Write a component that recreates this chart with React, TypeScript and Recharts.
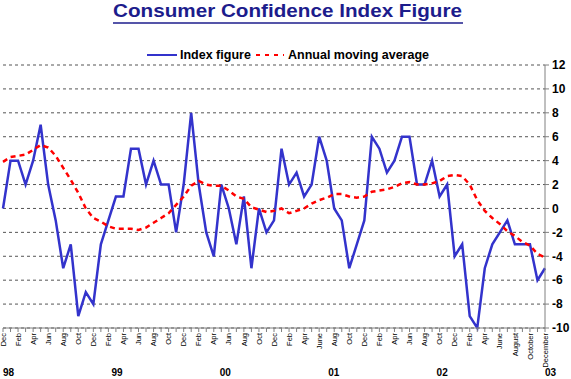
import React from 'react';
import { LineChart, Line, XAxis, YAxis, CartesianGrid, Legend } from 'recharts';

const FONT = "'Liberation Sans', Arial, sans-serif";

// one label per month, Dec 97 .. Dec 03
const monthLabels = [
  "Dec",
  "Jan", "Feb", "Mar", "Apr", "May", "Jun", "Jul", "Aug", "Sep", "Oct", "Nov", "Dec",
  "Jan", "Feb", "Mar", "Apr", "May", "Jun", "Jul", "Aug", "Sep", "Oct", "Nov", "Dec",
  "Jan", "Feb", "Mar", "Apr", "May", "Jun", "Jul", "Aug", "Sep", "Oct", "Nov", "Dec",
  "Jan", "Feb", "Mar", "Apr", "May", "June", "Jul", "Aug", "Sep", "Oct", "Nov", "Dec",
  "Jan", "Feb", "Mar", "Apr", "May", "Jun", "Jul", "Aug", "Sep", "Oct", "Nov", "Dec",
  "January", "Feb", "March", "Apr", "May", "June", "July", "August", "September", "October", "November", "December",
];

const indexFigure = [
  0,
  4, 4, 2, 4, 7, 2, -1, -5, -3, -9, -7, -8,
  -3, -1, 1, 1, 5, 5, 2, 4, 2, 2, -2, 2,
  8, 2, -2, -4, 2, 0, -3, 1, -5, 0, -2, -1,
  5, 2, 3, 1, 2, 6, 4, 0, -1, -5, -3, -1,
  6, 5, 3, 4, 6, 6, 2, 2, 4, 1, 2, -4,
  -3, -9, -10, -5, -3, -2, -1, -3, -3, -3, -6, -5,
];

const movingAverage = [
  3.9,
  4.3, 4.4, 4.5, 4.9, 5.3, 5.1, 4.4, 3.4, 2.4, 1.3, 0.0, -0.8,
  -1.1, -1.5, -1.7, -1.7, -1.7, -1.8, -1.6, -1.2, -0.8, -0.4, 0.3, 1.0,
  1.9, 2.3, 2.0, 1.9, 1.9, 1.5, 1.0, 0.8, 0.1, -0.1, -0.3, -0.2,
  0.0, -0.4, -0.2, 0.0, 0.4, 0.7, 0.9, 1.2, 1.2, 1.0, 0.9, 1.0,
  1.4, 1.5, 1.6, 1.8, 2.1, 2.2, 2.0, 2.0, 2.1, 2.3, 2.7, 2.8,
  2.7, 2.0, 0.7, -0.2, -0.8, -1.3, -1.9, -2.3, -2.8, -3.1, -3.8, -4.1,
];

// year labels sit evenly under the axis, measured in month steps
const yearLabels = ["98", "99", "00", "01", "02", "03"];
const yearTickPos = [0, 14.4, 28.8, 43.2, 57.6, 72];
const yTicks = [-10, -8, -6, -4, -2, 0, 2, 4, 6, 8, 10, 12];

const data = monthLabels.map((m, i) => ({ m, idx: indexFigure[i], avg: movingAverage[i] }));

const MonthTick = (props: any) => {
  const { x, y, payload, index } = props;
  if (index % 2 === 1) return null;
  return (
    <text
      transform={`translate(${x},${y}) rotate(-90)`}
      textAnchor="end"
      dy="0.35em"
      fontSize={7.5}
      fontFamily={FONT}
      fill="#000"
    >
      {payload.value}
    </text>
  );
};

const YearTick = (props: any) => {
  const { x, payload } = props;
  const i = yearTickPos.indexOf(payload.value);
  return (
    <text x={x} y={376} textAnchor="start" fontSize={10} fontWeight="bold" fontFamily={FONT} fill="#000">
      {yearLabels[i]}
    </text>
  );
};

const LegendBox = () => (
  <div style={{ position: 'relative', height: 20 }}>
    <svg width={571} height={20} style={{ position: 'absolute', left: 0, top: 0 }}>
      <line x1={147} x2={177} y1={11} y2={11} stroke="#3333cc" strokeWidth={2} />
      <text x={180} y={15} fontSize={12.5} fontWeight="bold" fontFamily={FONT}>Index figure</text>
      <line x1={256} x2={284} y1={11} y2={11} stroke="#ff0000" strokeWidth={2} strokeDasharray="4 5" />
      <text x={288} y={15} fontSize={12.5} fontWeight="bold" fontFamily={FONT}>Annual moving average</text>
    </svg>
  </div>
);

export default function App() {
  return (
    <div style={{ position: 'absolute', left: 0, top: 0, width: 571, height: 379, background: '#fff' }}>
      <svg width={571} height={30} style={{ position: 'absolute', left: 0, top: 0 }}>
        <text
          x={113}
          y={17}
          textLength={349}
          lengthAdjust="spacingAndGlyphs"
          fontSize={18}
          fontWeight="bold"
          fontFamily={FONT}
          fill="#1c1c8c"
        >
          Consumer Confidence Index Figure
        </text>
        <line x1={113} x2={463} y1={23} y2={23} stroke="#1c1c8c" strokeWidth={1.5} />
      </svg>
      <LineChart width={571} height={379} data={data} margin={{ top: 65, right: 0, bottom: 0, left: 3 }}>
        <CartesianGrid vertical={false} strokeDasharray="3 3" stroke="#555" />
        <XAxis
          dataKey="m"
          interval={0}
          height={36}
          tickSize={4}
          tickMargin={1}
          tick={MonthTick}
          axisLine={{ stroke: '#808080' }}
          tickLine={{ stroke: '#808080' }}
        />
        <XAxis
          xAxisId="year"
          type="number"
          domain={[0, 72]}
          ticks={yearTickPos}
          interval={0}
          allowDataOverflow
          height={15}
          axisLine={false}
          tickLine={false}
          tick={YearTick}
        />
        <YAxis
          orientation="right"
          domain={[-10, 12]}
          ticks={yTicks}
          interval={0}
          width={26}
          tickSize={4}
          tickMargin={3}
          axisLine={{ stroke: '#808080' }}
          tickLine={{ stroke: '#808080' }}
          tick={{ fill: '#000', fontSize: 12, fontWeight: 'bold', fontFamily: FONT }}
        />
        <YAxis
          yAxisId="left"
          orientation="left"
          domain={[-10, 12]}
          width={0}
          tick={false}
          tickLine={false}
          axisLine={{ stroke: '#808080' }}
        />
        <Legend
          layout="vertical"
          align="center"
          verticalAlign="middle"
          wrapperStyle={{ top: 44, left: 0, width: 571, height: 20 }}
          content={() => <LegendBox />}
        />
        <Line type="linear" dataKey="idx" stroke="#3333cc" strokeWidth={2.5} dot={false} isAnimationActive={false} />
        <Line
          type="linear"
          dataKey="avg"
          stroke="#ff0000"
          strokeWidth={2.5}
          strokeDasharray="5 4"
          dot={false}
          isAnimationActive={false}
        />
      </LineChart>
    </div>
  );
}
